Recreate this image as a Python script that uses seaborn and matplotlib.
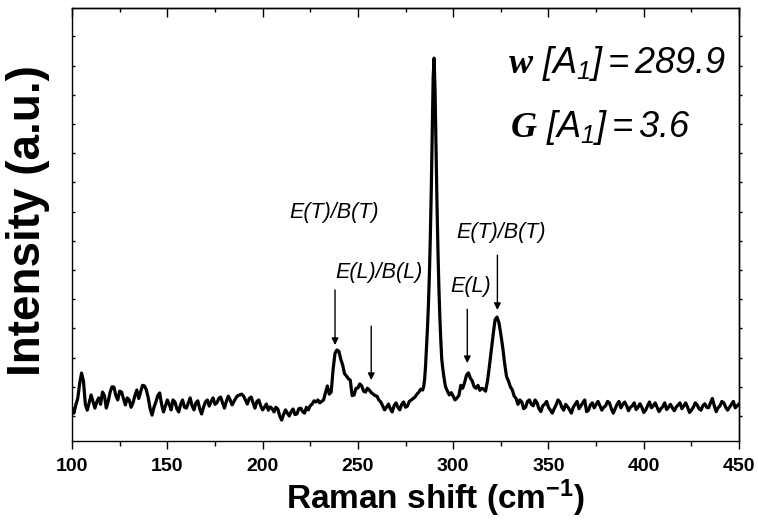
import numpy as np
import pandas as pd
import matplotlib
matplotlib.use("Agg")
import matplotlib.pyplot as plt
from matplotlib.ticker import MultipleLocator
import seaborn as sns

# Raman spectrum (arbitrary intensity units)
shift_low = np.arange(100, 284)
counts_low = [27, 10, 38, 60, 110, 147, 120, 40, 20, 45,
              72, 50, 27, 48, 62, 40, 82, 70, 27, 50,
              82, 100, 99, 70, 55, 85, 82, 60, 38, 62,
              55, 30, 45, 70, 89, 60, 82, 105, 103, 90,
              62, 25, 3, 30, 48, 70, 79, 40, 14, 35,
              55, 40, 21, 55, 48, 25, 14, 40, 55, 30,
              27, 45, 62, 35, 21, 45, 52, 25, 7, 30,
              48, 55, 34, 50, 62, 40, 45, 60, 65, 45,
              27, 50, 68, 55, 38, 50, 62, 70, 72, 75,
              68, 55, 41, 60, 65, 45, 27, 50, 55, 35,
              21, 30, 41, 20, 31, 25, 14, 30, 24, 0,
              -14, 5, 21, 10, 0, 15, 24, 5, 7, 25,
              27, 15, 10, 30, 21, 35, 41, 52, 48, 55,
              45, 50, 55, 80, 103, 75, 82, 160, 215, 226,
              222, 195, 175, 145, 137, 128, 123, 70, 72, 95,
              96, 110, 103, 85, 82, 95, 89, 80, 75, 70,
              68, 55, 48, 35, 21, 30, 41, 25, 14, 35,
              45, 30, 21, 40, 48, 30, 34, 50, 55, 60,
              65, 75, 82, 92]
# A1 mode, sampled finer
shift_peak = np.arange(284, 296.5, 0.5)
counts_peak = [89, 100, 125, 170, 236, 300, 380, 480, 610, 770,
               960, 1160, 1226, 1110, 920, 730, 570, 440, 340, 260,
               195, 165, 140, 118, 100]
shift_high = np.arange(297, 451)
counts_high = [85, 72, 80, 68, 55, 62, 70, 105, 95, 115,
               140, 148, 130, 120, 100, 95, 105, 88, 95, 92,
               85, 120, 170, 225, 280, 330, 339, 320, 280, 235,
               180, 135, 120, 100, 90, 68, 60, 40, 55, 48,
               25, 30, 50, 55, 40, 35, 55, 45, 25, 15,
               35, 40, 50, 30, 20, 10, 25, 38, 55, 48,
               30, 20, 40, 32, 22, 10, 30, 40, 50, 25,
               35, 45, 55, 15, 20, 38, 45, 28, 40, 50,
               35, 20, 30, 35, 50, 45, 25, 10, 25, 40,
               50, 28, 40, 48, 35, 18, 30, 35, 45, 22,
               30, 42, 30, 12, 20, 35, 48, 28, 35, 45,
               30, 15, 25, 32, 45, 22, 30, 40, 28, 18,
               30, 38, 45, 25, 35, 45, 30, 12, 20, 30,
               45, 38, 25, 20, 35, 42, 30, 28, 45, 60,
               35, 15, 28, 35, 50, 45, 30, 20, 30, 40,
               50, 28, 35, 42]

x_ticks = [100, 150, 200, 250, 300, 350, 400, 450]
x_tick_labels = ["100", "150", "200", "250", "300", "350", "400", "450"]

# mode annotations: label, arrow x, arrow start, arrow tip, label x, label y
mode_labels = ["E(T)/B(T)", "E(L)/B(L)", "E(L)", "E(T)/B(T)"]
mode_arrow_x = [238, 257, 307.4, 323.2]
mode_arrow_from = [432, 308, 366, 551]
mode_arrow_to = [243, 123, 181, 363]
mode_text_x = [237.4, 261.3, 309.1, 325.4]
mode_text_y = [697, 493, 442, 627]

sns.set_theme(style="ticks")
plt.rcParams['font.family'] = ['Liberation Sans', 'DejaVu Sans']
plt.rcParams['mathtext.fontset'] = 'custom'
plt.rcParams['mathtext.rm'] = 'Liberation Sans:italic'
plt.rcParams['mathtext.it'] = 'Liberation Sans:italic'
plt.rcParams['mathtext.bf'] = 'Liberation Serif:bold:italic'
plt.rcParams['mathtext.sf'] = 'Liberation Sans:bold'
plt.rcParams['axes.linewidth'] = 1.0
for key in ['text.color', 'axes.labelcolor', 'axes.edgecolor',
            'xtick.color', 'ytick.color']:
    plt.rcParams[key] = 'black'

spec = pd.DataFrame({
    "shift": np.concatenate([shift_low, shift_peak, shift_high]),
    "intensity": np.concatenate([counts_low, counts_peak, counts_high]),
})

fig = plt.figure(figsize=(7.58, 5.24), dpi=100)
ax = fig.add_axes([0.095, 0.1584, 0.880, 0.826])
sns.lineplot(data=spec, x="shift", y="intensity", color="black", lw=2.3,
             estimator=None, ax=ax)

ax.set_xlim(100, 450)
ax.set_ylim(-85.6, 1397)
ax.set_xticks(x_ticks)
ax.set_xticklabels(x_tick_labels, fontweight="bold")
ax.xaxis.set_minor_locator(MultipleLocator(25))
ax.tick_params(axis="x", which="major", direction="out", length=6, width=1,
               labelsize=14, pad=6)
ax.tick_params(axis="x", which="minor", direction="out", length=3.5, width=1)
ax.set_yticks(np.arange(0, 1301, 100))
ax.set_yticklabels([])
ax.tick_params(axis="y", direction="in", length=2.5, width=1)

secx = ax.secondary_xaxis("top")
secx.set_xticks(x_ticks)
secx.set_xticklabels([])
secx.xaxis.set_minor_locator(MultipleLocator(25))
secx.tick_params(which="major", direction="in", length=6.5, width=1)
secx.tick_params(which="minor", direction="in", length=3, width=1)

secy = ax.secondary_yaxis("right")
secy.set_yticks(np.arange(0, 1301, 100))
secy.set_yticklabels([])
secy.tick_params(direction="out", length=2.5, width=1)

ax.set_xlabel(r"Raman shift (cm$^{\mathsf{-1}}$)", fontsize=24, fontweight="bold")
ax.xaxis.set_label_coords(0.545, -0.085)
ax.set_ylabel("Intensity (a.u.)", fontsize=33, fontweight="bold")
ax.yaxis.set_label_coords(-0.033, 0.51)

for lab, xa, y0, y1, tx, ty in zip(mode_labels, mode_arrow_x, mode_arrow_from,
                                   mode_arrow_to, mode_text_x, mode_text_y):
    ax.annotate("", xy=(xa, y1), xytext=(xa, y0),
                arrowprops=dict(arrowstyle="-|>", color="black", lw=1,
                                mutation_scale=10, shrinkA=0, shrinkB=0))
    ax.text(tx, ty, lab, ha="center", va="center", fontsize=15.5,
            style="italic")

fig.text(0.670, 0.861, r"$\mathbf{w}\ [A_1] = 289.9$",
         fontsize=26, va="baseline")
fig.text(0.673, 0.739, r"$\mathbf{G}\ [A_1] = 3.6$",
         fontsize=26, va="baseline")

fig.savefig("out.png", dpi=100)
